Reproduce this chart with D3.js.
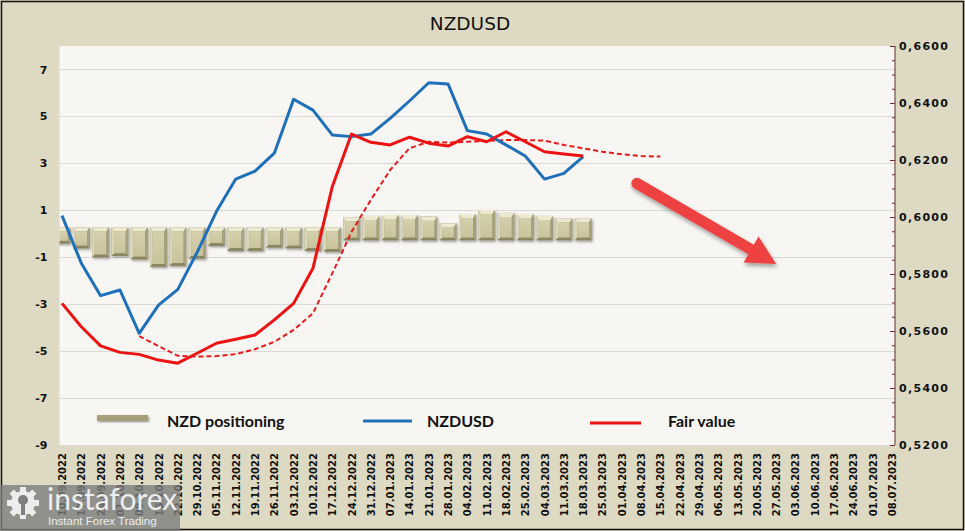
<!DOCTYPE html>
<html><head><meta charset="utf-8">
<script src="https://cdn.jsdelivr.net/npm/d3@7"></script>
<style>body{margin:0;background:#fff}svg{display:block}
.dv{font-family:"DejaVu Sans",Verdana,sans-serif}
.lt{font-family:Lato,"Open Sans",sans-serif}</style>
</head><body>
<svg id="chart" width="965" height="531"></svg>
<script>
// ---------- data ----------
const dates = ["10.09.2022","17.09.2022","24.09.2022","01.10.2022","08.10.2022","15.10.2022","22.10.2022","29.10.2022",
"05.11.2022","12.11.2022","19.11.2022","26.11.2022","03.12.2022","10.12.2022","17.12.2022","24.12.2022","31.12.2022",
"07.01.2023","14.01.2023","21.01.2023","28.01.2023","04.02.2023","11.02.2023","18.02.2023","25.02.2023",
"04.03.2023","11.03.2023","18.03.2023","25.03.2023","01.04.2023","08.04.2023","15.04.2023","22.04.2023","29.04.2023",
"06.05.2023","13.05.2023","20.05.2023","27.05.2023","03.06.2023","10.06.2023","17.06.2023","24.06.2023","01.07.2023","08.07.2023"];
const positioning = [-0.41,-0.62,-1.00,-0.95,-1.09,-1.40,-1.36,-1.05,-0.51,-0.72,-0.72,-0.58,-0.62,-0.72,-0.76,
  0.70,0.76,0.80,0.80,0.73,0.45,0.84,1.01,0.89,0.84,0.76,0.66,0.66];
const nzdusd = [0.6005,0.5838,0.5724,0.5744,0.5592,0.5691,0.5746,0.5876,0.6019,0.6133,0.6161,0.6224,0.6413,0.6375,
  0.6288,0.6282,0.6291,0.6346,0.6407,0.6471,0.6467,0.6303,0.6291,0.6253,0.6214,0.6133,0.6153,0.6212];
const fairValue = [0.5697,0.5615,0.5548,0.5525,0.5518,0.5498,0.5487,0.5522,0.5557,0.5571,0.5586,0.5639,0.5697,0.5820,
  0.6106,0.6291,0.6262,0.6253,0.6280,0.6259,0.6249,0.6282,0.6264,0.6299,0.6264,0.6229,0.6221,0.6214];
const fairValueTrend = [null,null,null,null,0.5582,0.5547,0.5513,0.5510,0.5512,0.5519,0.5536,0.5562,0.5604,0.5662,
  0.5802,0.5948,0.6060,0.6165,0.6241,0.6264,0.6261,0.6264,0.6267,0.6270,0.6270,0.6268,0.6253,0.6241,0.6229,0.6220,0.6214,0.6212];
const leftTicks = [-9,-7,-5,-3,-1,1,3,5,7];
const rightTicks = [0.52,0.54,0.56,0.58,0.60,0.62,0.64,0.66];
const legendLabels = ["NZD positioning","NZDUSD","Fair value"];
const titleText = "NZDUSD";
// forecast arrow (category index, price)
const arrowFrom = [29.78, 0.6118];
const arrowTo = [37.0, 0.5835];

// ---------- layout ----------
const W = 965, H = 531;
const plot = {l: 59.5, r: 895, t: 46, b: 445};
const svg = d3.select("#chart");
const defs = svg.append("defs");

const sh = defs.append("filter").attr("id","barShadow").attr("x","-30%").attr("y","-30%").attr("width","160%").attr("height","160%");
sh.append("feDropShadow").attr("dx",1.2).attr("dy",1.5).attr("stdDeviation",1).attr("flood-color","#000").attr("flood-opacity",0.35);
const ash = defs.append("filter").attr("id","arrowShadow").attr("x","-20%").attr("y","-20%").attr("width","140%").attr("height","160%");
ash.append("feDropShadow").attr("dx",1).attr("dy",3).attr("stdDeviation",2).attr("flood-color","#000").attr("flood-opacity",0.35);
const faceGrad = defs.append("linearGradient").attr("id","face").attr("x1",0).attr("y1",0).attr("x2",0).attr("y2",1);
faceGrad.append("stop").attr("offset","0").attr("stop-color","#D6D1AD");
faceGrad.append("stop").attr("offset","1").attr("stop-color","#C9C39C");
defs.append("clipPath").attr("id","plotClip").append("rect")
  .attr("x",plot.l).attr("y",plot.t).attr("width",plot.r-plot.l).attr("height",plot.b-plot.t);

// background
svg.append("rect").attr("width",W).attr("height",H).attr("fill","#DDD9C3");
svg.append("rect").attr("x",1.5).attr("y",1.5).attr("width",W-3).attr("height",H-3)
  .attr("fill","none").attr("stroke","#111").attr("stroke-width",1.5);
svg.append("rect").attr("x",plot.l).attr("y",plot.t).attr("width",plot.r-plot.l).attr("height",plot.b-plot.t)
  .attr("fill","#F7F6F2");

// title
svg.append("text").attr("class","dv").attr("x",470).attr("y",30).attr("text-anchor","middle")
  .style("font-size","18.5px").attr("fill","#111").text(titleText);

// scales
const x = d3.scalePoint().domain(dates).range([62, 892]);
const xi = i => 62 + (892-62)*i/(dates.length-1);
const yL = d3.scaleLinear().domain([-9, 8]).range([plot.b, plot.t]);
const yR = d3.scaleLinear().domain([0.52, 0.66]).range([plot.b, plot.t]);

// gridlines
svg.append("g").selectAll("line").data(leftTicks).join("line")
  .attr("x1",plot.l).attr("x2",plot.r).attr("y1",d=>Math.round(yL(d))+0.5).attr("y2",d=>Math.round(yL(d))+0.5)
  .attr("stroke","#D9D9D9").attr("stroke-width",1);

// left axis
const gL = svg.append("g").attr("transform",`translate(${plot.l},0)`)
  .call(d3.axisLeft(yL).tickValues(leftTicks).tickSize(0).tickPadding(12).tickFormat(d3.format("d")));
gL.attr("font-family",null).attr("font-size",null);
gL.select(".domain").remove();
gL.selectAll("text").attr("class","dv").style("font-size","11px")
  .style("font-weight","bold").attr("fill","#111").text(d=>d<0?"-"+Math.abs(d):d);

// right axis
const fmtR = d => d3.format(".4f")(d).replace(".",",");
const minor = d3.range(0, 29).map(k => 0.52 + k*0.005);
const gRm = svg.append("g").attr("transform",`translate(${plot.r},0)`)
  .call(d3.axisRight(yR).tickValues(minor).tickSize(-3).tickFormat(""));
gRm.select(".domain").remove();
gRm.selectAll("line").attr("stroke","#6B2C2C");
const gR = svg.append("g").attr("transform",`translate(${plot.r},0)`)
  .call(d3.axisRight(yR).tickValues(rightTicks).tickSize(-5).tickPadding(4).tickFormat(fmtR));
gR.attr("font-family",null).attr("font-size",null);
gR.select(".domain").attr("stroke","#6B2C2C").attr("d",`M0,${plot.t}V${plot.b}`);
gR.selectAll("line").attr("stroke","#6B2C2C");
gR.selectAll("text").attr("class","dv").style("font-size","11px")
  .style("font-weight","bold").attr("fill","#111").style("letter-spacing","1.3px").attr("x",4);

// x labels
svg.append("g").selectAll("text").data(dates).join("text").attr("class","dv")
  .attr("transform",d=>`translate(${x(d)+4},453) rotate(-90)`)
  .attr("text-anchor","end")
  .style("font-size","10px").style("font-weight","bold")
  .attr("fill","#111").text(d=>d);

// bars
const plotG = svg.append("g").attr("clip-path","url(#plotClip)");
const bw = 16.7, overhang = 6.5;
function bevelBar(g, x0, y0, w, h) {
  const x1 = x0 + w, y1 = y0 + h, t = 4, s = 2.5, b = 2.5;
  const grp = g.append("g").attr("filter","url(#barShadow)");
  grp.append("rect").attr("x",x0).attr("y",y0).attr("width",w).attr("height",h).attr("fill","#8E8967");
  grp.append("rect").attr("x",x0+s).attr("y",y0+t).attr("width",w-2*s).attr("height",Math.max(0,h-t-b)).attr("fill","url(#face)");
  const poly = (pts, c) => grp.append("polygon").attr("points",pts.map(p=>p.join(",")).join(" ")).attr("fill",c);
  poly([[x0,y0],[x1,y0],[x1-s,y0+t],[x0+s,y0+t]], "#EEEAD2");
  poly([[x0,y0],[x0+s,y0+t],[x0+s,y1-b],[x0,y1]], "#DCD7B6");
  poly([[x1,y0],[x1,y1],[x1-s,y1-b],[x1-s,y0+t]], "#A7A17D");
  poly([[x0,y1],[x1,y1],[x1-s,y1-b],[x0+s,y1-b]], "#8A8562");
}
const barG = plotG.append("g");
positioning.forEach((v, i) => {
  const cx = x(dates[i]);
  const top = v < 0 ? yL(0) - overhang : yL(v);
  const bot = v < 0 ? yL(v) : yL(0) + overhang;
  bevelBar(barG, cx - bw/2, top, bw, bot - top);
});

// lines
const line = d3.line().defined(d => d != null).x((d,i) => x(dates[i])).y(d => yR(d));
plotG.append("path").datum(fairValueTrend).attr("d",line).attr("fill","none")
  .attr("stroke","#E41A1C").attr("stroke-width",2).attr("stroke-dasharray","5,3");
plotG.append("path").datum(nzdusd).attr("d",line).attr("fill","none")
  .attr("stroke","#1F70BA").attr("stroke-width",3).attr("stroke-linejoin","round");
plotG.append("path").datum(fairValue).attr("d",line).attr("fill","none")
  .attr("stroke","#EC1313").attr("stroke-width",3).attr("stroke-linejoin","round");

// arrow
(function(){
  const p0 = [xi(arrowFrom[0]), yR(arrowFrom[1])], p1 = [xi(arrowTo[0]), yR(arrowTo[1])];
  const dx = p1[0]-p0[0], dy = p1[1]-p0[1], len = Math.hypot(dx,dy);
  const ux = dx/len, uy = dy/len, nx = -uy, ny = ux;
  const L = 29, hw = 15;
  const bc = [p1[0]-L*ux, p1[1]-L*uy];
  const ag = svg.append("g").attr("filter","url(#arrowShadow)");
  ag.append("line").attr("x1",p0[0]).attr("y1",p0[1]).attr("x2",bc[0]+2*ux).attr("y2",bc[1]+2*uy)
    .attr("stroke","#EE4343").attr("stroke-width",11).attr("stroke-linecap","round");
  ag.append("polygon").attr("points",[[bc[0]+hw*nx,bc[1]+hw*ny],[p1[0],p1[1]],[bc[0]-hw*nx,bc[1]-hw*ny]].map(p=>p.join(",")).join(" "))
    .attr("fill","#EE4343");
})();

// legend
const lg = svg.append("g").attr("class","lt").style("font-weight","bold")
  .style("font-size","16px").attr("fill","#111");
lg.append("rect").attr("x",97).attr("y",415).attr("width",51).attr("height",6).attr("fill","#A6A07A").attr("filter","url(#barShadow)");
lg.append("text").attr("x",167).attr("y",427).text(legendLabels[0]);
lg.append("line").attr("x1",363).attr("x2",412).attr("y1",421).attr("y2",421).attr("stroke","#1F70BA").attr("stroke-width",3);
lg.append("text").attr("x",427).attr("y",427).text(legendLabels[1]);
lg.append("line").attr("x1",590).attr("x2",641).attr("y1",423).attr("y2",423).attr("stroke","#EC1313").attr("stroke-width",3);
lg.append("text").attr("x",668).attr("y",427).text(legendLabels[2]);

// watermark
const wm = svg.append("g");
wm.append("rect").attr("x",0).attr("y",485).attr("width",180).attr("height",46).attr("fill","#7E7E7E").attr("opacity",0.8);
const gear = wm.append("g").attr("transform","translate(23,503)").attr("fill","#EDEDED");
d3.range(8).forEach(k => gear.append("rect").attr("x",-3).attr("y",-16).attr("width",6).attr("height",8)
  .attr("transform",`rotate(${k*45})`));
gear.append("circle").attr("r",12);
gear.append("circle").attr("r",5).attr("cy",-3).attr("fill","#7E7E7E");
gear.append("rect").attr("x",-2).attr("y",0).attr("width",4).attr("height",12).attr("fill","#7E7E7E");
wm.append("text").attr("class","lt").attr("x",47).attr("y",510)
  .style("font-size","30px").attr("fill","#EDEDED").text("instaforex");
wm.append("text").attr("x",48).attr("y",525).style("font-family","'Liberation Sans', Arial, sans-serif")
  .style("font-size","11.5px").attr("fill","#EDEDED").text("Instant Forex Trading");
</script>
</body></html>
